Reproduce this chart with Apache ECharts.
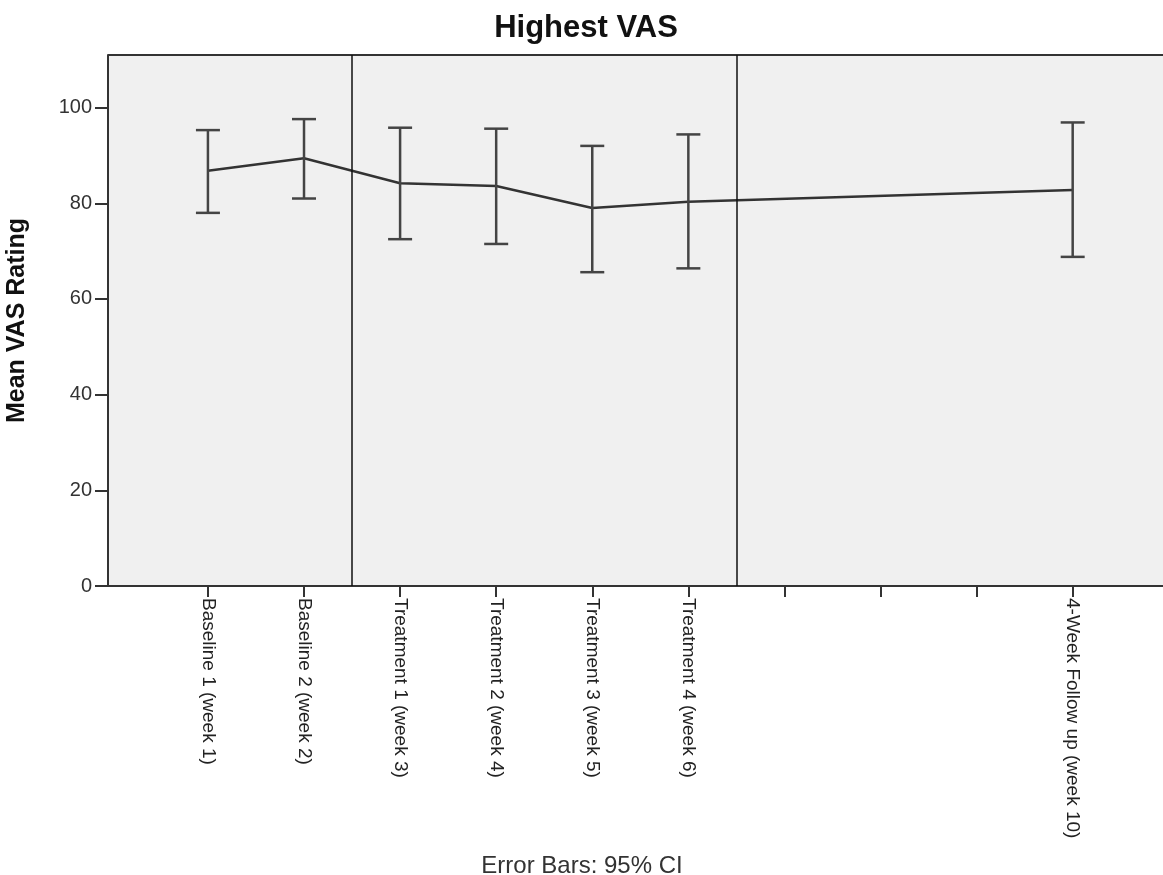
<!DOCTYPE html>
<html>
<head>
<meta charset="utf-8">
<script src="https://cdn.jsdelivr.net/npm/echarts@6/dist/echarts.min.js"></script>
<style>
html,body{margin:0;padding:0;background:#fff;}
#chart{width:1163px;height:875px;}
</style>
</head>
<body>
<div id="chart"></div>
<script>
const categories = ['Baseline 1 (week 1)', 'Baseline 2 (week 2)', 'Treatment 1 (week 3)', 'Treatment 2 (week 4)', 'Treatment 3 (week 5)', 'Treatment 4 (week 6)', '', '', '', '4-Week Follow up (week 10)'];
const categoryPositions = [1, 2, 3, 4, 5, 6, 7, 8, 9, 10];
const weeks = [1, 2, 3, 4, 5, 6, 10];
const means = [86.8, 89.4, 84.2, 83.6, 79.0, 80.3, 82.8];
const upper = [95.3, 97.6, 95.8, 95.6, 92.0, 94.4, 96.9];
const lower = [78.0, 81.0, 72.5, 71.5, 65.6, 66.4, 68.8];
const yTicks = [0, 20, 40, 60, 80, 100];
const phaseDividers = [2.5, 6.5];

const FONT = "'Liberation Sans', Arial, sans-serif";
const chart = echarts.init(document.getElementById('chart'));

const lineData = weeks.map((w, i) => [w, means[i]]);
const errData = weeks.map((w, i) => [w, lower[i], upper[i]]);

chart.setOption({
  animation: false,
  backgroundColor: '#ffffff',
  title: [
    { text: 'Highest VAS', left: 581, textAlign: 'center', top: 8,
      textStyle: { fontFamily: FONT, fontSize: 31, fontWeight: 'bold', color: '#111' } },
    { text: 'Error Bars: 95% CI', left: 577, textAlign: 'center', top: 849,
      textStyle: { fontFamily: FONT, fontSize: 24, fontWeight: 'normal', color: '#333' } }
  ],
  grid: { left: 108, top: 55, right: 0, bottom: 289, outerBoundsMode: 'none', containLabel: false,
          show: true, backgroundColor: '#f0f0f0', borderWidth: 0 },
  xAxis: {
    type: 'value', min: -0.04, max: 10.94,
    axisLine: { show: true, onZero: false, lineStyle: { color: '#333', width: 2 } },
    axisTick: { show: true, length: 11, customValues: categoryPositions, lineStyle: { color: '#333', width: 2 } },
    splitLine: { show: false },
    axisLabel: {
      customValues: categoryPositions, rotate: -90, margin: 12,
      fontFamily: FONT, fontSize: 19, color: '#222',
      formatter: v => categories[Math.round(v) - 1] || ''
    }
  },
  yAxis: {
    type: 'value', min: 0, max: 111,
    name: 'Mean VAS Rating', nameLocation: 'middle', nameGap: 78, nameRotate: 90,
    nameTextStyle: { fontFamily: FONT, fontSize: 25, fontWeight: 'bold', color: '#111' },
    axisLine: { show: true, onZero: false, lineStyle: { color: '#333', width: 2 } },
    axisTick: { show: true, length: 13, customValues: yTicks, lineStyle: { color: '#333', width: 2 } },
    splitLine: { show: false },
    axisLabel: { customValues: yTicks, margin: 16, fontFamily: FONT, fontSize: 20, color: '#333' }
  },
  series: [
    {
      type: 'line', data: lineData, symbol: 'none',
      lineStyle: { color: '#333', width: 2.5 },
      z: 3,
      markLine: {
        silent: true, symbol: 'none', label: { show: false },
        lineStyle: { color: '#111', width: 1.5, type: 'solid' },
        data: phaseDividers.map(x => ({ xAxis: x }))
      }
    },
    {
      type: 'custom', data: errData, z: 4,
      renderItem: function (params, api) {
        const x = api.value(0);
        const lo = api.coord([x, api.value(1)]);
        const hi = api.coord([x, api.value(2)]);
        const hw = 12;
        const style = { stroke: '#444', lineWidth: 2.5 };
        return {
          type: 'group',
          children: [
            { type: 'line', shape: { x1: lo[0], y1: lo[1], x2: hi[0], y2: hi[1] }, style },
            { type: 'line', shape: { x1: hi[0] - hw, y1: hi[1], x2: hi[0] + hw, y2: hi[1] }, style },
            { type: 'line', shape: { x1: lo[0] - hw, y1: lo[1], x2: lo[0] + hw, y2: lo[1] }, style }
          ]
        };
      }
    },
    {
      type: 'line', data: [[-0.04, 111], [10.94, 111]], symbol: 'none', silent: true,
      lineStyle: { color: '#333', width: 2 }, z: 2
    }
  ]
});
</script>
</body>
</html>
